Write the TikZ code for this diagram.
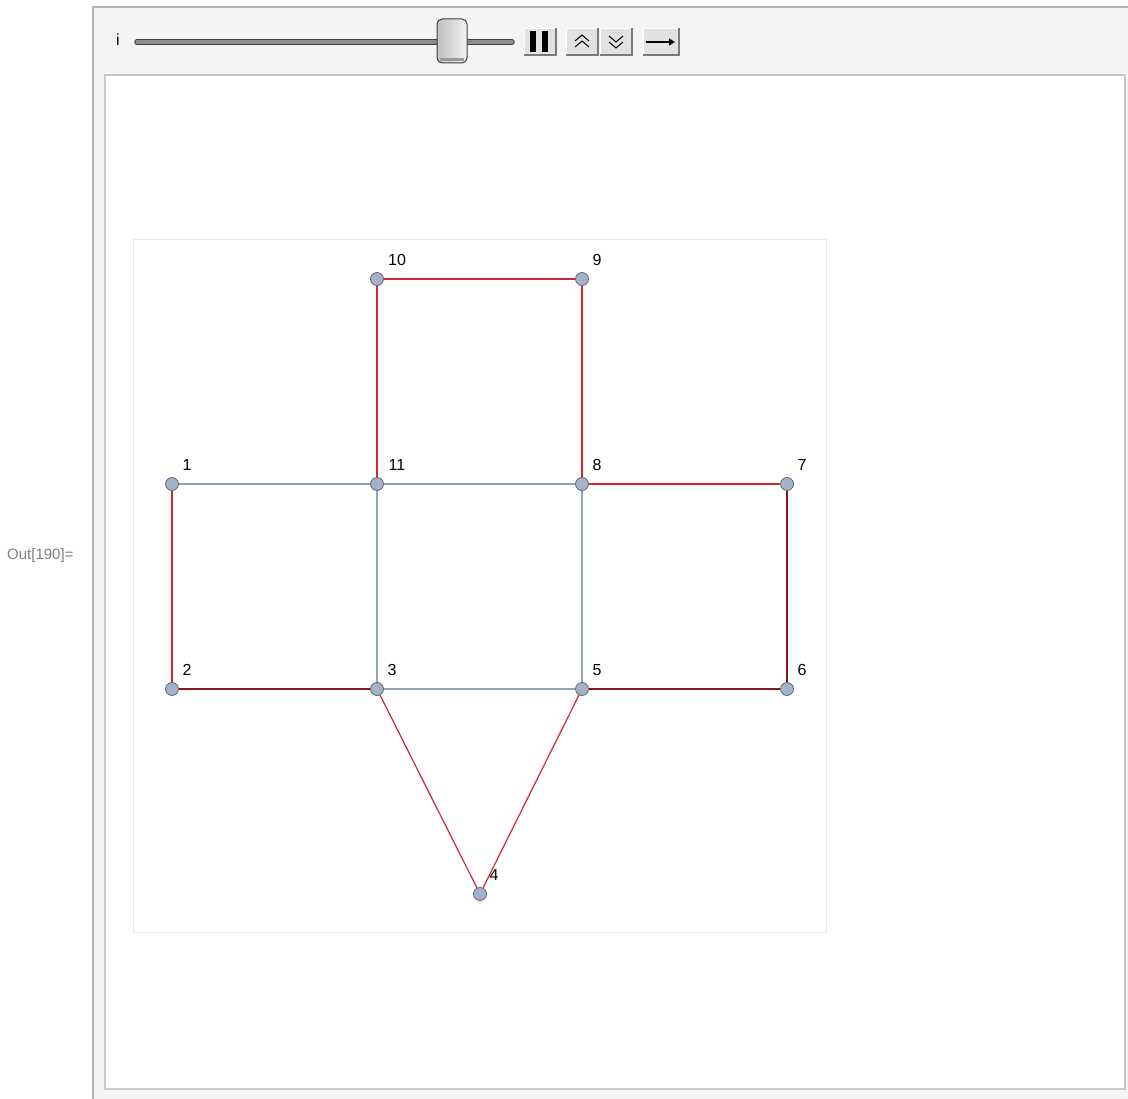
\documentclass[tikz,border=0pt]{standalone}
\usepackage{fontspec}
\setmainfont{Liberation Sans}
\usetikzlibrary{arrows.meta}
\definecolor{panelbg}{HTML}{F4F4F4}
\definecolor{panelline}{HTML}{B4B4B4}
\definecolor{innerline}{HTML}{C8C8C8}
\definecolor{plotline}{HTML}{E8E8E8}
\definecolor{vfill}{HTML}{A3B1C9}
\definecolor{vline}{HTML}{5A5F6A}
\definecolor{edgeblue}{HTML}{8FA2C0}
\definecolor{edgered}{HTML}{D4262B}
\definecolor{edgedark}{HTML}{8A1418}
\definecolor{outgray}{HTML}{808080}
\definecolor{btnfill}{HTML}{E2E2E2}
\definecolor{btnshadow}{HTML}{7A7A7A}
\tikzset{
  vtx/.style={circle, draw=vline, fill=vfill, line width=0.7pt, minimum size=13pt, inner sep=0pt},
  lbl/.style={font=\fontsize{16pt}{16pt}\selectfont, inner sep=0pt, text=black},
  eblue/.style={draw=edgeblue, line width=1.2pt},
  ered/.style={draw=edgered, line width=1.2pt},
  edark/.style={draw=edgedark, line width=1.2pt},
  btn/.style={fill=btnfill, draw=white, line width=0.8pt},
  btnedge/.style={draw=btnshadow, line width=1.6pt}
}
\begin{document}
\begin{tikzpicture}[x=1pt,y=-1pt]
\useasboundingbox (0,0) rectangle (1128,1099);
\fill[white] (0,0) rectangle (1128,1099);
% outer panel
\fill[panelbg] (93,7) rectangle (1128,1099);
\draw[panelline, line width=2.5pt] (93,1099) -- (93,7) -- (1128,7);
% inner white panel
\draw[innerline, fill=white, line width=2pt] (105,75) rectangle (1125,1089);
% plot frame
\draw[plotline, line width=1pt] (133,240) rectangle (826,932);
% Out label
\node[text=outgray, font=\fontsize{15pt}{15pt}\selectfont, anchor=west, inner sep=0pt] (out) at (7,556) {Out[190]=};
% control bar
\node[font=\fontsize{16pt}{16pt}\selectfont, inner sep=0pt] (ilbl) at (118,40) {i};
\draw[line width=5.5pt, line cap=round, color=black!75] (137,42) -- (512,42);
\draw[line width=3.5pt, line cap=round, color=black!45] (137,42) -- (512,42);
\draw[rounded corners=5pt, draw=black!75, line width=1pt, left color=black!25, right color=black!5, shading=axis] (437,19) rectangle (467,63);
\fill[black!40] (440,58) rectangle (464,61);
% buttons
\draw[btn] (524,28) rectangle (556,55);
\draw[btnedge] (524,55) -- (556,55) -- (556,28);
\fill[black] (530,31) rectangle (536,52);
\fill[black] (542,31) rectangle (548,52);
\draw[btn] (566,28) rectangle (598,55);
\draw[btnedge] (566,55) -- (598,55) -- (598,28);
\draw[black, line width=1pt] (575,41) -- (582,35) -- (589,41);
\draw[black, line width=1pt] (575,47) -- (582,41) -- (589,47);
\draw[btn] (600,28) rectangle (632,55);
\draw[btnedge] (600,55) -- (632,55) -- (632,28);
\draw[black, line width=1pt] (609,36) -- (616,42) -- (623,36);
\draw[black, line width=1pt] (609,42) -- (616,48) -- (623,42);
\draw[btn] (643,28) rectangle (679,55);
\draw[btnedge] (643,55) -- (679,55) -- (679,28);
\draw[black, line width=2pt, -{Triangle[length=6pt,width=7pt]}] (646,42) -- (675,42);
% vertices
\node[vtx] (n1) at (172,484) {};
\node[vtx] (n2) at (172,689) {};
\node[vtx] (n3) at (377,689) {};
\node[vtx] (n4) at (480,894) {};
\node[vtx] (n5) at (582,689) {};
\node[vtx] (n6) at (787,689) {};
\node[vtx] (n7) at (787,484) {};
\node[vtx] (n8) at (582,484) {};
\node[vtx] (n9) at (582,279) {};
\node[vtx] (n10) at (377,279) {};
\node[vtx] (n11) at (377,484) {};
% edges
\draw[eblue] (n1) -- (n11);
\draw[eblue] (n11) -- (n8);
\draw[eblue] (n11) -- (n3);
\draw[eblue] (n8) -- (n5);
\draw[eblue] (n3) -- (n5);
\draw[ered] (n1) -- (n2);
\draw[ered] (n11) -- (n10);
\draw[ered] (n10) -- (n9);
\draw[ered] (n9) -- (n8);
\draw[ered] (n8) -- (n7);
\draw[ered] (n3) -- (n4);
\draw[ered] (n4) -- (n5);
\draw[edark] (n2) -- (n3);
\draw[edark] (n5) -- (n6);
\draw[edark] (n6) -- (n7);
% labels
\node[lbl] (l1) at (187,465) {1};
\node[lbl] (l2) at (187,670) {2};
\node[lbl] (l3) at (392,670) {3};
\node[lbl] (l4) at (494,875) {4};
\node[lbl] (l5) at (597,670) {5};
\node[lbl] (l6) at (802,670) {6};
\node[lbl] (l7) at (802,465) {7};
\node[lbl] (l8) at (597,465) {8};
\node[lbl] (l9) at (597,260) {9};
\node[lbl] (l10) at (397,260) {10};
\node[lbl] (l11) at (397,465) {11};
\end{tikzpicture}
\end{document}
